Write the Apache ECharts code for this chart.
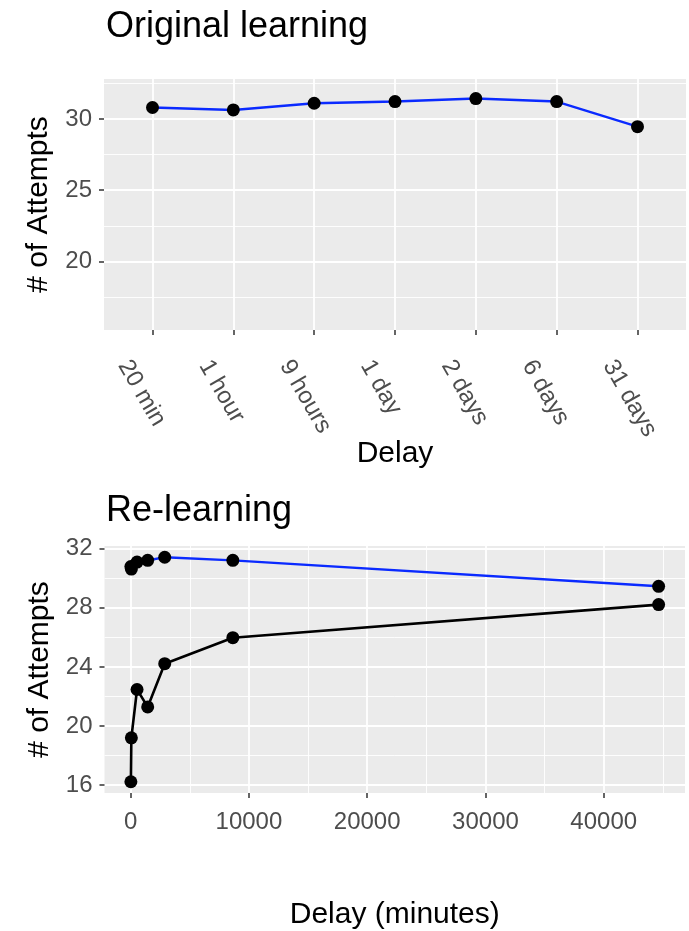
<!DOCTYPE html>
<html>
<head>
<meta charset="utf-8">
<script src="https://cdn.jsdelivr.net/npm/echarts@6/dist/echarts.min.js"></script>
<style>
  html, body { margin: 0; padding: 0; background: #ffffff; }
  #chart { width: 689px; height: 931px; }
</style>
</head>
<body>
<div id="chart"></div>
<script>
// Delay conditions and mean number of attempts per condition
const delayLabels = ['20 min', '1 hour', '9 hours', '1 day', '2 days', '6 days', '31 days'];
const delayMinutes = [20, 60, 540, 1440, 2880, 8640, 44640];
const originalAttempts = [30.8, 30.63, 31.1, 31.22, 31.43, 31.22, 29.46];
const relearnAttempts = [16.22, 19.2, 22.47, 21.29, 24.22, 25.98, 28.22];

// Axis breaks
const topYTicks = [20, 25, 30];
const topYMinor = [17.5, 22.5, 27.5, 32.5];
const topYLimits = [16, 32];
const bottomXTicks = [0, 10000, 20000, 30000, 40000];
const bottomXMinor = [5000, 15000, 25000, 35000, 45000];
const bottomYTicks = [16, 20, 24, 28, 32];
const bottomYMinor = [18, 22, 26, 30];

// 5% padding on continuous ranges, 0.6 units on the discrete axis
function expand(lo, hi) {
  const pad = 0.05 * (hi - lo);
  return [lo - pad, hi + pad];
}
const topX = [-0.6, delayLabels.length - 1 + 0.6];
const topY = expand(topYLimits[0], topYLimits[1]);
const allBottomY = originalAttempts.concat(relearnAttempts);
const bottomX = expand(Math.min.apply(null, delayMinutes), Math.max.apply(null, delayMinutes));
const bottomY = expand(Math.min.apply(null, allBottomY), Math.max.apply(null, allBottomY));

const FONT = 'Liberation Sans, Arial, Helvetica, sans-serif';
const BLUE = '#0a2aff';
const PANEL = '#EBEBEB';

const tickStyle = { show: true, length: 5, lineStyle: { color: '#333333', width: 1.5 } };
const labelStyle = { color: '#4D4D4D', fontSize: 24, fontFamily: FONT };
const nameStyle = { color: '#000000', fontSize: 30, fontFamily: FONT };
const titleStyle = { fontSize: 36, fontWeight: 'normal', color: '#000000', fontFamily: FONT };
const majorLine = { show: true, lineStyle: { color: '#FFFFFF', width: 1.8 } };
const minorLine = { show: true, lineStyle: { color: '#FFFFFF', width: 0.9 } };

function minorAxis(gridIndex, range, values) {
  return {
    type: 'value', gridIndex: gridIndex, min: range[0], max: range[1],
    axisLine: { show: false, onZero: false },
    axisTick: { show: false, customValues: values },
    axisLabel: { show: false, customValues: values },
    splitLine: minorLine
  };
}

const indexData = originalAttempts.map((v, i) => [i, v]);
const originalByMinutes = originalAttempts.map((v, i) => [delayMinutes[i], v]);
const relearnByMinutes = relearnAttempts.map((v, i) => [delayMinutes[i], v]);

const pointSeries = (xi, yi, data, lineColor, lineWidth) => ({
  type: 'line', xAxisIndex: xi, yAxisIndex: yi, data: data,
  symbol: 'circle', symbolSize: 13, itemStyle: { color: '#000000' },
  lineStyle: { color: lineColor, width: lineWidth }, z: 3
});

const option = {
  animation: false,
  backgroundColor: '#ffffff',
  title: [
    { text: 'Original learning', left: 101, top: 4, textStyle: titleStyle },
    { text: 'Re-learning', left: 101, top: 488, textStyle: titleStyle }
  ],
  grid: [
    { left: 104, right: 3, top: 79, height: 251, show: true, backgroundColor: PANEL, borderWidth: 0 },
    { left: 104.5, right: 4, top: 546, height: 251, show: true, backgroundColor: PANEL, borderWidth: 0 }
  ],
  xAxis: [
    {
      type: 'value', gridIndex: 0, min: topX[0], max: topX[1],
      name: 'Delay', nameLocation: 'middle', nameGap: 109, nameMoveOverlap: false, nameTextStyle: nameStyle,
      axisLine: { show: false, onZero: false },
      axisTick: Object.assign({ customValues: delayLabels.map((_, i) => i) }, tickStyle),
      axisLabel: Object.assign({
        customValues: delayLabels.map((_, i) => i),
        rotate: -60, align: 'left', verticalAlign: 'top', margin: 6, padding: [26, 0, 0, 8],
        formatter: v => delayLabels[Math.round(v)]
      }, labelStyle),
      splitLine: majorLine
    },
    {
      type: 'value', gridIndex: 1, min: bottomX[0], max: bottomX[1],
      name: 'Delay (minutes)', nameLocation: 'middle', nameGap: 107, nameTextStyle: nameStyle,
      axisLine: { show: false, onZero: false },
      axisTick: Object.assign({ customValues: bottomXTicks }, tickStyle),
      axisLabel: Object.assign({ customValues: bottomXTicks, margin: 17, formatter: v => String(v) }, labelStyle),
      splitLine: majorLine
    },
    minorAxis(1, bottomX, bottomXMinor)
  ],
  yAxis: [
    {
      type: 'value', gridIndex: 0, min: topY[0], max: topY[1],
      name: '# of Attempts', nameLocation: 'middle', nameGap: 50, nameTextStyle: nameStyle,
      axisLine: { show: false, onZero: false },
      axisTick: Object.assign({ customValues: topYTicks }, tickStyle),
      axisLabel: Object.assign({ customValues: topYTicks, margin: 12 }, labelStyle),
      splitLine: majorLine
    },
    minorAxis(0, topY, topYMinor),
    {
      type: 'value', gridIndex: 1, min: bottomY[0], max: bottomY[1],
      name: '# of Attempts', nameLocation: 'middle', nameGap: 50, nameTextStyle: nameStyle,
      axisLine: { show: false, onZero: false },
      axisTick: Object.assign({ customValues: bottomYTicks }, tickStyle),
      axisLabel: Object.assign({ customValues: bottomYTicks, margin: 12 }, labelStyle),
      splitLine: majorLine
    },
    minorAxis(1, bottomY, bottomYMinor)
  ],
  series: [
    pointSeries(0, 0, indexData, BLUE, 2.4),
    pointSeries(1, 2, originalByMinutes, BLUE, 2.4),
    pointSeries(1, 2, relearnByMinutes, '#000000', 2.6)
  ]
};

const chart = echarts.init(document.getElementById('chart'), null, { renderer: 'canvas' });
chart.setOption(option);
</script>
</body>
</html>
